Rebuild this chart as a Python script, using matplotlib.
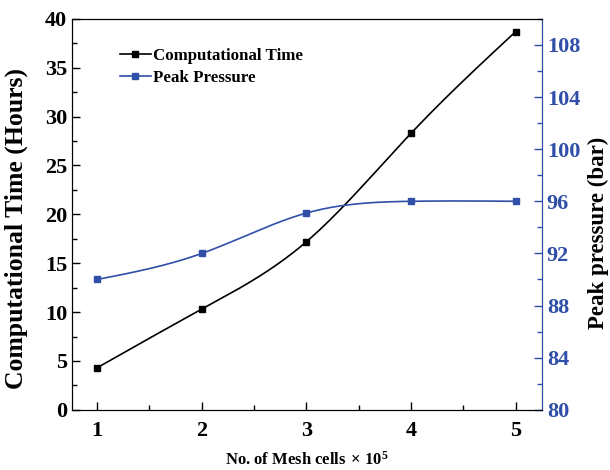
import numpy as np
import matplotlib
matplotlib.use("Agg")
import matplotlib.pyplot as plt
from matplotlib.ticker import MultipleLocator

mesh_cells = [1, 2, 3, 4, 5]
comp_time = [4.3, 10.3, 17.2, 28.3, 38.7]
peak_pressure = [90.0, 92.0, 95.1, 96.0, 96.0]

BLUE = "#2f4fa8"


def natural_spline(x, y, n=200):
    # natural cubic spline through the points, for the smooth connecting line
    x = np.asarray(x, float)
    y = np.asarray(y, float)
    k = len(x)
    h = np.diff(x)
    A = np.zeros((k, k))
    b = np.zeros(k)
    A[0, 0] = A[-1, -1] = 1
    for i in range(1, k - 1):
        A[i, i - 1] = h[i - 1]
        A[i, i] = 2 * (h[i - 1] + h[i])
        A[i, i + 1] = h[i]
        b[i] = 6 * ((y[i + 1] - y[i]) / h[i] - (y[i] - y[i - 1]) / h[i - 1])
    m = np.linalg.solve(A, b)
    xs = np.linspace(x[0], x[-1], n)
    ys = np.empty_like(xs)
    for j, xv in enumerate(xs):
        i = min(np.searchsorted(x, xv, side="right") - 1, k - 2)
        t = xv - x[i]
        hi = h[i]
        a = (y[i + 1] - y[i]) / hi - hi * (2 * m[i] + m[i + 1]) / 6
        ys[j] = y[i] + a * t + m[i] / 2 * t**2 + (m[i + 1] - m[i]) / (6 * hi) * t**3
    return xs, ys


plt.rcParams["font.family"] = "Liberation Serif"
plt.rcParams["font.weight"] = "bold"
plt.rcParams["axes.labelweight"] = "bold"
plt.rcParams["mathtext.fontset"] = "custom"
plt.rcParams["mathtext.rm"] = "Liberation Serif:bold"
plt.rcParams["mathtext.bf"] = "Liberation Serif:bold"
plt.rcParams["mathtext.it"] = "Liberation Serif:bold"

fig = plt.figure(figsize=(6.1, 4.7), dpi=100)
ax = fig.add_axes([0.118, 0.128, 0.7705, 0.832])
ax2 = ax.twinx()

xs, ys = natural_spline(mesh_cells, comp_time)
ax.plot(xs, ys, color="black", lw=1.2)
ax.plot(mesh_cells, comp_time, "s", color="black", ms=5)
ax.plot([], [], "-s", color="black", ms=5, lw=1.2, label="Computational Time")
ax.plot([], [], "-s", color=BLUE, ms=5, lw=1.2, label="Peak Pressure")

xs2, ys2 = natural_spline(mesh_cells, peak_pressure)
ax2.plot(xs2, ys2, color=BLUE, lw=1.2)
ax2.plot(mesh_cells, peak_pressure, "s", color=BLUE, ms=5)

ax.set_xlim(0.76, 5.25)
ax.set_ylim(0, 40)
ax2.set_ylim(80, 110)

ax.xaxis.set_major_locator(MultipleLocator(1))
ax.xaxis.set_minor_locator(MultipleLocator(0.5))
ax.yaxis.set_major_locator(MultipleLocator(5))
ax.yaxis.set_minor_locator(MultipleLocator(2.5))
ax2.yaxis.set_minor_locator(MultipleLocator(2))
ax2.set_yticks(np.arange(80, 109, 4))

ax.tick_params(axis="both", which="both", direction="in", labelsize=16)
ax.tick_params(which="major", length=6, width=1)
ax.tick_params(which="minor", length=3.5, width=1)
ax.tick_params(axis="x", which="both", top=False, pad=8)
ax2.tick_params(axis="y", which="both", direction="in", colors=BLUE, labelsize=16)
ax2.tick_params(which="major", length=6, width=1)
ax2.tick_params(which="minor", length=3.5, width=1)
ax2.spines["right"].set_color(BLUE)

ax.set_xlabel(r"No. of Mesh cells$\,\times\,$10$^{5}$", fontsize=12, labelpad=7)
ax.set_ylabel("Computational Time (Hours)", fontsize=18.5)
ax.yaxis.set_label_coords(-0.094, 0.463)
ax2.set_ylabel("Peak pressure (bar)", fontsize=16.5)
ax2.yaxis.set_label_coords(1.098, 0.453)

leg = ax.legend(loc="upper left", bbox_to_anchor=(0.07, 0.965), frameon=False,
                fontsize=12.2, handlelength=1.8, handletextpad=0.15, labelspacing=0.35)

fig.savefig("out.png", dpi=100)
